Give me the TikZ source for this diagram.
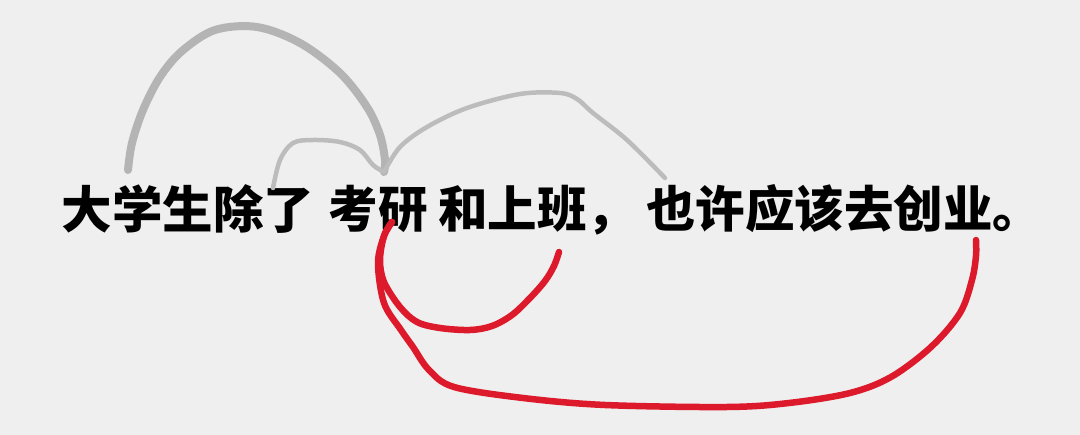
\documentclass[tikz,border=0pt]{standalone}
\usepackage{fontspec}
\newfontfamily\cjk{Noto Sans CJK SC}
\definecolor{bgc}{HTML}{EFEFEF}
\definecolor{grayline}{HTML}{B4B4B4}
\definecolor{graythin}{HTML}{BCBCBC}
\definecolor{redline}{HTML}{DD1A2B}
\tikzset{
  word/.style={inner sep=0pt, anchor=base west, font=\cjk\bfseries\fontsize{49.5}{50}\selectfont, text=black},
  wordwide/.style={word, font=\cjk\bfseries\fontsize{50.5}{51}\selectfont},
  arcthick/.style={draw=grayline, line width=8pt, line cap=round, line join=round},
  arcthin/.style={draw=graythin, line width=4.5pt, line cap=round, line join=round},
  arcred/.style={draw=redline, line width=6.5pt, line cap=round, line join=round}
}
\begin{document}
\begin{tikzpicture}[x=1pt,y=-1pt]
\fill[bgc] (0,0) rectangle (1080,435);
\useasboundingbox (0,0) rectangle (1080,435);
% text
\node[wordwide] (w1) at (61.5,228.5) {大学生除了};
\node[word] (w2) at (328.5,228) {考研};
\node[word] (w3) at (438,228) {和上班，};
\node[word] (w4) at (646,228) {也许应该去创业。};
% endpoints
\coordinate (daEnd) at (128,170);
\coordinate (leEnd) at (273,188);
\coordinate (yanTop) at (384,172);
\coordinate (yeTop) at (665,178);
\coordinate (yanBot) at (392,222);
\coordinate (banEnd) at (559,252);
\coordinate (yeBot) at (976,240);
% gray arcs
\draw[arcthick] plot[smooth, tension=0.55] coordinates {(daEnd) (132,143) (143,110) (160,77) (182,51) (215,30) (257,27) (300,43) (340,73) (367,107) (380,135) (385,160) (yanTop)};
\draw[arcthin] plot[smooth, tension=0.55] coordinates {(leEnd) (280,160) (293,143) (313,140) (340,142) (360,150) (373,165) (yanTop)};
\draw[arcthin] plot[smooth, tension=0.55] coordinates {(yanTop) (400,147) (427,127) (467,108) (520,94) (560,93) (577,99) (593,113) (627,140) (yeTop)};
% red arcs
\draw[arcred] plot[smooth, tension=0.55] coordinates {(yanBot) (384,236) (380,260) (384,282) (400,307) (417,322) (440,328) (470,330) (492,326) (512,315) (530,298) (545,281) (554,266) (banEnd)};
\draw[arcred] plot[smooth, tension=0.55] coordinates {(yanBot) (384,236) (378,263) (384,303) (401,330) (413,347) (429,370) (454,387) (523,398) (605,405) (727,407) (789,403) (850,393) (891,377) (931,347) (960,313) (972,280) (976,256) (yeBot)};
\end{tikzpicture}
\end{document}
